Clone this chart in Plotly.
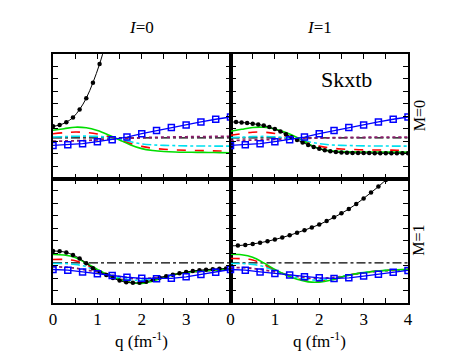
import plotly.graph_objects as go
from plotly.subplots import make_subplots

# ---------------- data ----------------
q_grid = [0, 0.25, 0.5, 0.75, 1.0, 1.25, 1.5, 1.75, 2.0, 2.25, 2.5, 2.75, 3.0, 3.25, 3.5, 3.75, 4.0]
q_sq = [0, 1/3, 2/3, 1.0, 4/3, 5/3, 2.0, 7/3, 8/3, 3.0, 10/3, 11/3, 4.0]
q_ref = [0, 4]

# I=0, M=0
i0m0_green = [3.87, 4.0, 4.12, 4.07, 3.85, 3.5, 3.1, 2.7, 2.4, 2.25, 2.17, 2.13, 2.11, 2.1, 2.09, 2.08, 2.07]
i0m0_red = [3.6, 3.68, 3.73, 3.7, 3.58, 3.38, 3.1, 2.8, 2.58, 2.43, 2.35, 2.3, 2.27, 2.25, 2.23, 2.21, 2.2]
i0m0_cyan = [3.33, 3.36, 3.39, 3.4, 3.38, 3.3, 3.15, 2.95, 2.78, 2.7, 2.66, 2.64, 2.62, 2.61, 2.61, 2.6, 2.6]
i0m0_purple = [3.0, 3.01, 3.03, 3.06, 3.1, 3.15, 3.2, 3.24, 3.28, 3.3, 3.32, 3.34, 3.35, 3.36, 3.37, 3.38, 3.39]
i0m0_blue = [2.66, 2.72, 2.8, 2.96, 3.12, 3.33, 3.6, 3.85, 4.09, 4.3, 4.54, 4.76, 4.94]
i0m0_q_black = [0, 0.15, 0.3, 0.45, 0.6, 0.75, 0.9, 1.05, 1.2]
i0m0_black = [4.19, 4.3, 4.52, 4.9, 5.55, 6.45, 7.7, 9.2, 11.0]
i0m0_ref = [3.27, 3.27]

# I=1, M=0
i1m0_green = [3.79, 3.95, 4.1, 4.12, 3.98, 3.7, 3.3, 2.8, 2.4, 2.22, 2.16, 2.14, 2.13, 2.13, 2.12, 2.12, 2.12]
i1m0_red = [3.47, 3.6, 3.72, 3.72, 3.62, 3.42, 3.15, 2.85, 2.6, 2.45, 2.37, 2.33, 2.3, 2.29, 2.28, 2.27, 2.26]
i1m0_cyan = [3.28, 3.32, 3.36, 3.38, 3.35, 3.28, 3.14, 2.95, 2.8, 2.7, 2.66, 2.64, 2.62, 2.61, 2.61, 2.6, 2.6]
i1m0_purple = [3.06, 3.07, 3.09, 3.11, 3.14, 3.17, 3.2, 3.23, 3.25, 3.27, 3.29, 3.3, 3.31, 3.32, 3.32, 3.33, 3.33]
i1m0_blue = [2.66, 2.72, 2.8, 2.96, 3.12, 3.33, 3.6, 3.85, 4.09, 4.3, 4.54, 4.76, 4.94]
i1m0_q_black = [0, 0.125, 0.25, 0.375, 0.5, 0.625, 0.75, 0.875, 1.0, 1.125, 1.25, 1.375, 1.5, 1.625, 1.75,
                1.875, 2.0, 2.125, 2.25, 2.375, 2.5, 2.625, 2.75, 2.875, 3.0, 3.125, 3.25, 3.375, 3.5,
                3.625, 3.75, 3.875, 4.0]
i1m0_black = [4.54, 4.53, 4.5, 4.46, 4.4, 4.34, 4.25, 4.13, 3.97, 3.78, 3.55, 3.32, 3.1, 2.9, 2.7,
              2.53, 2.38, 2.27, 2.18, 2.12, 2.08, 2.06, 2.05, 2.04, 2.04, 2.04, 2.03, 2.03, 2.03,
              2.03, 2.03, 2.03, 2.03]
i1m0_ref = [3.27, 3.27]

# I=0, M=1
i0m1_green = [3.89, 3.85, 3.65, 3.2, 2.7, 2.25, 1.88, 1.65, 1.58, 1.75, 2.05, 2.3, 2.45, 2.55, 2.62, 2.68, 2.72]
i0m1_red = [3.49, 3.5, 3.4, 3.08, 2.65, 2.27, 1.95, 1.75, 1.7, 1.82, 2.08, 2.3, 2.45, 2.55, 2.62, 2.68, 2.72]
i0m1_cyan = [3.17, 3.17, 3.1, 2.92, 2.6, 2.3, 2.02, 1.85, 1.82, 1.9, 2.1, 2.3, 2.45, 2.55, 2.62, 2.67, 2.7]
i0m1_purple = [2.9, 2.88, 2.8, 2.65, 2.5, 2.3, 2.12, 1.98, 1.95, 2.0, 2.12, 2.28, 2.42, 2.52, 2.6, 2.65, 2.7]
i0m1_blue = [2.69, 2.64, 2.5, 2.35, 2.2, 2.07, 1.98, 1.95, 1.98, 2.1, 2.28, 2.46, 2.69]
i0m1_q_black = [0, 0.15, 0.3, 0.45, 0.6, 0.75, 0.9, 1.05, 1.2, 1.35, 1.5, 1.65, 1.8, 1.95, 2.1,
                2.25, 2.4, 2.55, 2.7, 2.85, 3.0, 3.15, 3.3, 3.45, 3.6, 3.75, 3.9]
i0m1_black = [4.18, 4.15, 4.06, 3.86, 3.58, 3.2, 2.8, 2.5, 2.25, 2.0, 1.8, 1.66, 1.62, 1.62, 1.7,
              1.86, 2.02, 2.15, 2.26, 2.38, 2.48, 2.57, 2.63, 2.68, 2.72, 2.75, 2.77]
i0m1_ref = [3.23, 3.23]

# I=1, M=1
i1m1_green = [3.92, 3.88, 3.68, 3.22, 2.7, 2.25, 1.9, 1.7, 1.68, 1.82, 2.08, 2.3, 2.45, 2.55, 2.62, 2.67, 2.7]
i1m1_red = [3.57, 3.56, 3.45, 3.1, 2.66, 2.27, 1.96, 1.78, 1.74, 1.85, 2.08, 2.3, 2.45, 2.55, 2.62, 2.67, 2.7]
i1m1_cyan = [3.17, 3.17, 3.1, 2.92, 2.6, 2.3, 2.03, 1.87, 1.84, 1.92, 2.1, 2.3, 2.45, 2.55, 2.62, 2.66, 2.68]
i1m1_purple = [2.85, 2.84, 2.78, 2.65, 2.5, 2.3, 2.13, 2.0, 1.97, 2.02, 2.13, 2.28, 2.42, 2.52, 2.59, 2.64, 2.67]
i1m1_blue = [2.69, 2.64, 2.5, 2.37, 2.24, 2.1, 2.02, 1.97, 2.02, 2.16, 2.3, 2.46, 2.62]
i1m1_q_black = [0, 1/6, 2/6, 3/6, 4/6, 5/6, 1.0, 7/6, 8/6, 9/6, 10/6, 11/6, 2.0, 13/6, 14/6, 15/6,
                16/6, 17/6, 3.0, 19/6, 20/6, 21/6, 22/6]
i1m1_black = [4.59, 4.61, 4.66, 4.74, 4.84, 4.96, 5.1, 5.26, 5.44, 5.64, 5.85, 6.07, 6.3, 6.58,
              6.88, 7.2, 7.55, 7.95, 8.4, 8.87, 9.35, 9.88, 10.45]
i1m1_ref = [3.23, 3.23]

col_titles = ["<i>I</i>=0", "<i>I</i>=1"]
row_titles = ["M=0", "M=1"]
left_ticks = [0, 1, 2, 3]
right_ticks = [0, 1, 2, 3, 4]
minor_ticks = [0.5, 1.5, 2.5, 3.5, 4.0]
label_text = "Skxtb"
x_title = "q (fm<sup>-1</sup>)"

# ---------------- figure ----------------
FONT = "Liberation Serif, Times New Roman, serif"
fig = make_subplots(rows=2, cols=2, horizontal_spacing=0, vertical_spacing=0)

panels = [
    (1, 1, i0m0_green, i0m0_red, i0m0_cyan, i0m0_purple, i0m0_blue, i0m0_q_black, i0m0_black, i0m0_ref),
    (1, 2, i1m0_green, i1m0_red, i1m0_cyan, i1m0_purple, i1m0_blue, i1m0_q_black, i1m0_black, i1m0_ref),
    (2, 1, i0m1_green, i0m1_red, i0m1_cyan, i0m1_purple, i0m1_blue, i0m1_q_black, i0m1_black, i0m1_ref),
    (2, 2, i1m1_green, i1m1_red, i1m1_cyan, i1m1_purple, i1m1_blue, i1m1_q_black, i1m1_black, i1m1_ref),
]

for r, c, g, rd, cy, pu, bl, qb, bk, ref in panels:
    fig.add_trace(go.Scatter(x=q_ref, y=ref, mode="lines",
                             line=dict(color="black", width=1.3, dash="dashdot")), row=r, col=c)
    fig.add_trace(go.Scatter(x=q_grid, y=pu, mode="lines", line_shape="spline",
                             line=dict(color="#8b1a6b", width=1.8, dash="dot")), row=r, col=c)
    fig.add_trace(go.Scatter(x=q_grid, y=cy, mode="lines", line_shape="spline",
                             line=dict(color="#00e0f0", width=1.6, dash="dashdot")), row=r, col=c)
    fig.add_trace(go.Scatter(x=q_grid, y=rd, mode="lines", line_shape="spline",
                             line=dict(color="#ff0000", width=1.6, dash="dash")), row=r, col=c)
    fig.add_trace(go.Scatter(x=q_grid, y=g, mode="lines", line_shape="spline",
                             line=dict(color="#00dd00", width=1.6)), row=r, col=c)
    fig.add_trace(go.Scatter(x=qb, y=bk, mode="lines+markers", line_shape="spline",
                             line=dict(color="black", width=1),
                             marker=dict(color="black", size=4.5, symbol="circle")), row=r, col=c)
    fig.add_trace(go.Scatter(x=q_sq, y=bl, mode="lines+markers",
                             line=dict(color="#0000ff", width=1.3),
                             marker=dict(symbol="square-open", size=6, color="#0000ff",
                                         line=dict(width=1.5, color="#0000ff"))), row=r, col=c)

axis_common = dict(showline=True, linewidth=2, linecolor="black", mirror="ticks",
                   ticks="inside", ticklen=5, tickwidth=1.2, tickcolor="black",
                   showgrid=False, zeroline=False)

for r in (1, 2):
    for c in (1, 2):
        fig.update_yaxes(range=[0, 10], dtick=1, showticklabels=False, row=r, col=c, **axis_common)
        xa = dict(range=[0, 4],
                  tickvals=left_ticks if c == 1 else right_ticks,
                  minor=dict(tickvals=minor_ticks, ticks="inside", ticklen=5,
                             tickwidth=1.2, tickcolor="black"),
                  tickfont=dict(family=FONT, size=17, color="black"),
                  showticklabels=(r == 2))
        fig.update_xaxes(row=r, col=c, **xa, **axis_common)

anns = []
for i, t in enumerate(col_titles):
    anns.append(dict(text=t, x=0.25 + 0.5 * i, y=1.108, xref="paper", yref="paper",
                     showarrow=False, xanchor="center", yanchor="middle",
                     font=dict(family=FONT, size=17, color="black")))
    anns.append(dict(text=x_title, x=0.25 + 0.5 * i, y=-0.15, xref="paper", yref="paper",
                     showarrow=False, xanchor="center", yanchor="middle",
                     font=dict(family=FONT, size=17, color="black")))
for i, t in enumerate(row_titles):
    anns.append(dict(text=t, x=1.031, y=0.75 - 0.5 * i, xref="paper", yref="paper",
                     showarrow=False, xanchor="center", yanchor="middle", textangle=-90,
                     font=dict(family=FONT, size=16, color="black")))
anns.append(dict(text=label_text, x=0.828, y=0.896, xref="paper", yref="paper",
                 showarrow=False, xanchor="center", yanchor="middle",
                 font=dict(family=FONT, size=22, color="black")))

fig.update_layout(width=462, height=357, margin=dict(l=45, r=62, t=46, b=62),
                  plot_bgcolor="white", paper_bgcolor="white", showlegend=False,
                  annotations=anns)

fig.write_html("out.html")
